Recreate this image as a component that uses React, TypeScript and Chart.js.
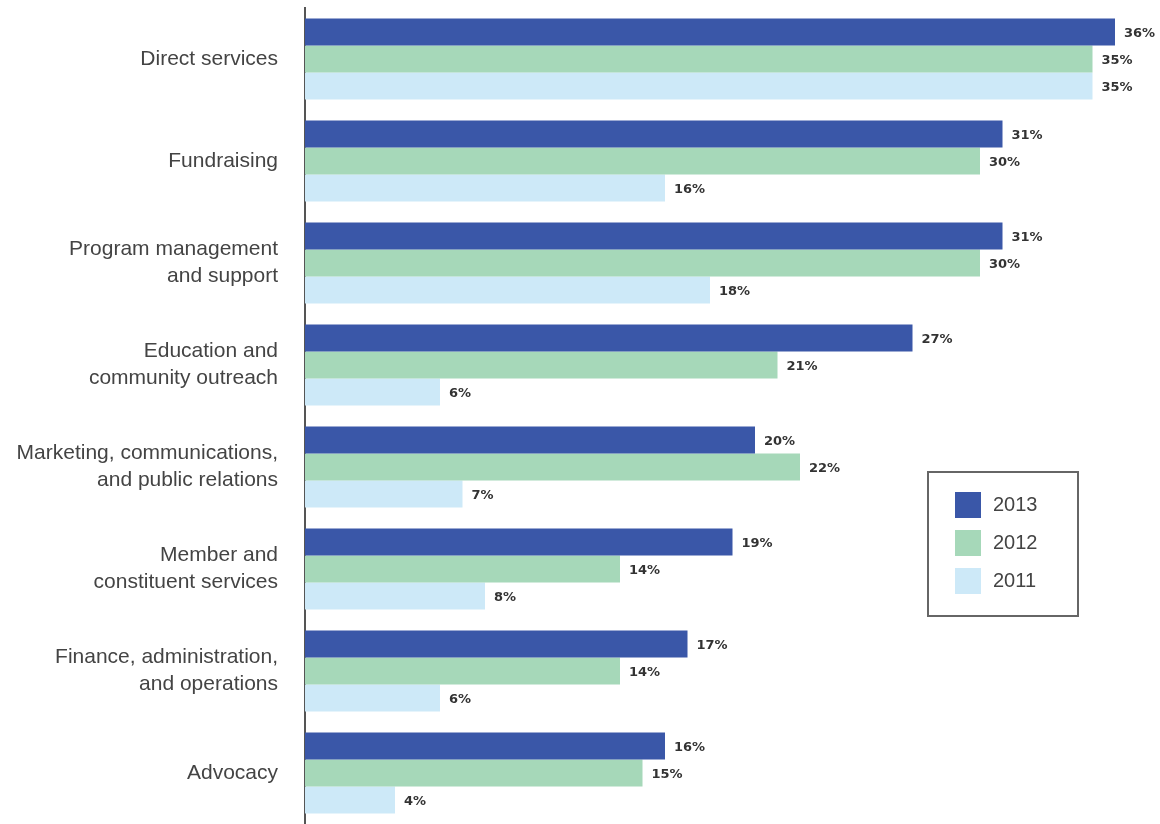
import React, { useEffect, useRef } from "react";
import { Chart, registerables } from "chart.js";

Chart.register(...registerables);

const categories: (string | string[])[] = [
  "Direct services",
  "Fundraising",
  ["Program management", "and support"],
  ["Education and", "community outreach"],
  ["Marketing, communications,", "and public relations"],
  ["Member and", "constituent services"],
  ["Finance, administration,", "and operations"],
  "Advocacy",
];

const seriesNames = ["2013", "2012", "2011"];
const values2013 = [36, 31, 31, 27, 20, 19, 17, 16];
const values2012 = [35, 30, 30, 21, 22, 14, 14, 15];
const values2011 = [35, 16, 18, 6, 7, 8, 6, 4];
const seriesColors = ["#3a57a8", "#a6d8b9", "#cde9f8"];
const xMax = 38;

const LABEL_FONT = "'Liberation Sans', Arial, sans-serif";

const valueLabelPlugin = {
  id: "valueLabels",
  afterDatasetsDraw(chart: any) {
    const ctx = chart.ctx;
    ctx.save();
    ctx.font = "bold 13px 'DejaVu Sans', sans-serif";
    ctx.fillStyle = "#333333";
    ctx.textAlign = "left";
    ctx.textBaseline = "middle";
    chart.data.datasets.forEach((ds: any, di: number) => {
      const meta = chart.getDatasetMeta(di);
      meta.data.forEach((el: any, i: number) => {
        ctx.fillText(ds.data[i] + "%", el.x + 9, el.y + 2);
      });
    });
    ctx.restore();
  },
};

const boxLegendPlugin = {
  id: "boxLegend",
  afterDraw(chart: any) {
    const ctx = chart.ctx;
    const bx = 928;
    const by = 472;
    const bw = 150;
    const bh = 144;
    ctx.save();
    ctx.fillStyle = "#ffffff";
    ctx.fillRect(bx, by, bw, bh);
    ctx.strokeStyle = "#666666";
    ctx.lineWidth = 2;
    ctx.strokeRect(bx, by, bw, bh);
    ctx.font = "20px " + LABEL_FONT;
    ctx.textAlign = "left";
    ctx.textBaseline = "middle";
    chart.data.datasets.forEach((ds: any, i: number) => {
      const y = by + 20 + i * 38;
      ctx.fillStyle = ds.backgroundColor;
      ctx.fillRect(bx + 27, y, 26, 26);
      ctx.fillStyle = "#444444";
      ctx.fillText(ds.label, bx + 65, y + 13);
    });
    ctx.restore();
  },
};

export default function App() {
  const canvasRef = useRef<HTMLCanvasElement | null>(null);

  useEffect(() => {
    document.body.style.margin = "0";
    const canvas = canvasRef.current;
    if (!canvas) return;
    const chart = new Chart(canvas, {
      type: "bar",
      data: {
        labels: categories,
        datasets: [values2013, values2012, values2011].map((vals, i) => ({
          label: seriesNames[i],
          data: vals,
          backgroundColor: seriesColors[i],
          borderWidth: 0,
          barPercentage: 1,
          categoryPercentage: 0.795,
        })),
      },
      options: {
        indexAxis: "y",
        animation: false,
        responsive: false,
        maintainAspectRatio: false,
        layout: { padding: { top: 8, right: 0, bottom: 0, left: 0 } },
        plugins: {
          legend: { display: false },
          tooltip: { enabled: false },
        },
        scales: {
          x: {
            display: false,
            min: 0,
            max: xMax,
          },
          y: {
            grid: { display: false },
            border: { display: true, color: "#555555", width: 2 },
            ticks: {
              font: { family: LABEL_FONT, size: 21, lineHeight: 1.29 },
              color: "#444444",
              padding: 19,
            },
            afterFit(scale: any) {
              scale.width = 305;
              scale.paddingTop = 0;
              scale.paddingBottom = 0;
            },
          },
        },
      } as any,
      plugins: [valueLabelPlugin, boxLegendPlugin],
    });
    return () => chart.destroy();
  }, []);

  return (
    <div style={{ width: 1160, height: 824, background: "#ffffff" }}>
      <canvas ref={canvasRef} width={1160} height={824} style={{ display: "block" }} />
    </div>
  );
}
